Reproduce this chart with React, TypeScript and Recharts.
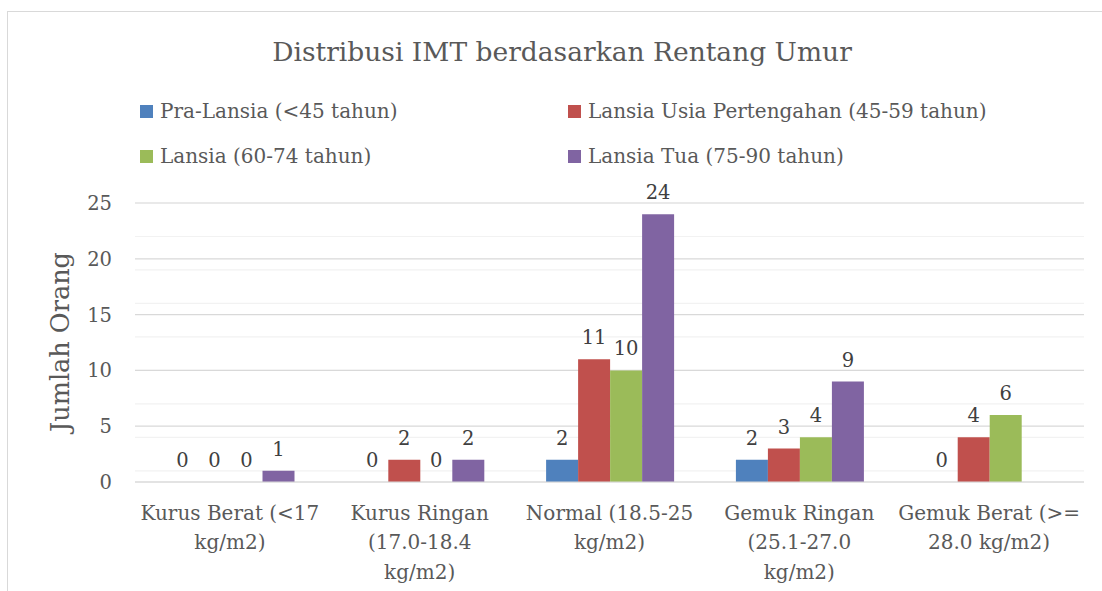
import { BarChart, Bar, XAxis, YAxis, CartesianGrid, LabelList } from "recharts"

const categories = [
  "Kurus Berat (<17\nkg/m2)",
  "Kurus Ringan\n(17.0-18.4\nkg/m2)",
  "Normal (18.5-25\nkg/m2)",
  "Gemuk Ringan\n(25.1-27.0\nkg/m2)",
  "Gemuk Berat (>=\n28.0 kg/m2)",
]

const seriesNames = [
  "Pra-Lansia (<45 tahun)",
  "Lansia Usia Pertengahan (45-59 tahun)",
  "Lansia (60-74 tahun)",
  "Lansia Tua (75-90 tahun)",
]

const praLansia = [0, 0, 2, 2, 0]
const lansiaPertengahan = [0, 2, 11, 3, 4]
const lansia = [0, 0, 10, 4, 6]
const lansiaTua: (number | null)[] = [1, 2, 24, 9, null]

const seriesColors = ["#4F81BD", "#C0504D", "#9BBB59", "#8064A2"]

const yTicks = [0, 5, 10, 15, 20, 25]
const minorTicks = Array.from({ length: 26 }, (_, i) => i)

const FONT = "'DejaVu Serif', serif"

const data = categories.map((name, i) => ({
  name,
  s0: praLansia[i],
  s1: lansiaPertengahan[i],
  s2: lansia[i],
  s3: lansiaTua[i],
}))

function CategoryTick({ x, y, payload }: any) {
  const lines = String(payload.value).split("\n")
  return (
    <text x={x} y={y} textAnchor="middle" fill="#595959" fontSize={20} fontFamily={FONT}>
      {lines.map((line, i) => (
        <tspan key={i} x={x} dy={i === 0 ? 38 : 29.3}>
          {line}
        </tspan>
      ))}
    </text>
  )
}

function ValueLabel(props: any) {
  const { x, y, width, height, value } = props
  if (value == null) return null
  // zero bars get a tiny min height, measure from the baseline instead
  const top = value === 0 ? Number(y) + Number(height) : Number(y)
  return (
    <text
      x={Number(x) + Number(width) / 2}
      y={top - 15}
      textAnchor="middle"
      fill="#404040"
      fontSize={19.5}
      fontFamily={FONT}
    >
      {value}
    </text>
  )
}

export default function App() {
  return (
    <div
      style={{
        position: "absolute",
        left: 0,
        top: 0,
        width: 1102,
        height: 591,
        overflow: "hidden",
        background: "#fff",
        fontFamily: FONT,
      }}
    >
      <div
        style={{
          position: "absolute",
          left: 7,
          top: 11,
          width: 1200,
          height: 700,
          border: "1.5px solid #D9D9D9",
        }}
      />
      <div
        style={{
          position: "absolute",
          left: 0,
          top: 34,
          width: 1124,
          textAlign: "center",
          fontSize: 26.5,
          color: "#595959",
          lineHeight: "36px",
        }}
      >
        Distribusi IMT berdasarkan Rentang Umur
      </div>
      <div
        style={{
          position: "absolute",
          left: 140,
          top: 96,
          display: "grid",
          gridTemplateColumns: "428px 428px",
          rowGap: 15,
          fontSize: 20,
          color: "#595959",
        }}
      >
        {seriesNames.map((name, i) => (
          <div key={name} style={{ display: "flex", alignItems: "center", height: 30 }}>
            <span
              style={{
                display: "inline-block",
                width: 13,
                height: 13,
                background: seriesColors[i],
                marginRight: 7,
              }}
            />
            {name}
          </div>
        ))}
      </div>
      <div
        style={{
          position: "absolute",
          left: 60,
          top: 342,
          transform: "translate(-50%, -50%) rotate(-90deg)",
          fontSize: 25.5,
          color: "#595959",
          whiteSpace: "nowrap",
        }}
      >
        Jumlah Orang
      </div>
      <div style={{ position: "absolute", left: 0, top: 0 }}>
        <BarChart
          width={1102}
          height={591}
          data={data}
          margin={{ top: 203, right: 18, bottom: 0, left: 0 }}
          barCategoryGap="16.6%"
          barGap={0}
        >
          <CartesianGrid horizontalValues={minorTicks} vertical={false} stroke="#F2F2F2" strokeWidth={1.2} />
          <CartesianGrid horizontalValues={yTicks} vertical={false} stroke="#D9D9D9" strokeWidth={1.2} />
          <XAxis
            dataKey="name"
            axisLine={{ stroke: "#D9D9D9", strokeWidth: 1.2 }}
            tickLine={false}
            tickSize={0}
            tickMargin={0}
            height={109}
            interval={0}
            tick={<CategoryTick />}
          />
          <YAxis
            domain={[0, 25]}
            ticks={yTicks}
            width={135}
            axisLine={false}
            tickLine={false}
            tickSize={0}
            tickMargin={23}
            tick={{ fill: "#595959", fontSize: 19.5, fontFamily: FONT }}
          />
          {["s0", "s1", "s2", "s3"].map((key, i) => (
            <Bar
              key={key}
              dataKey={key}
              fill={seriesColors[i]}
              minPointSize={(v: any) => (v === 0 ? 0.01 : 0)}
              isAnimationActive={false}
            >
              <LabelList dataKey={key} content={<ValueLabel />} />
            </Bar>
          ))}
        </BarChart>
      </div>
    </div>
  )
}
